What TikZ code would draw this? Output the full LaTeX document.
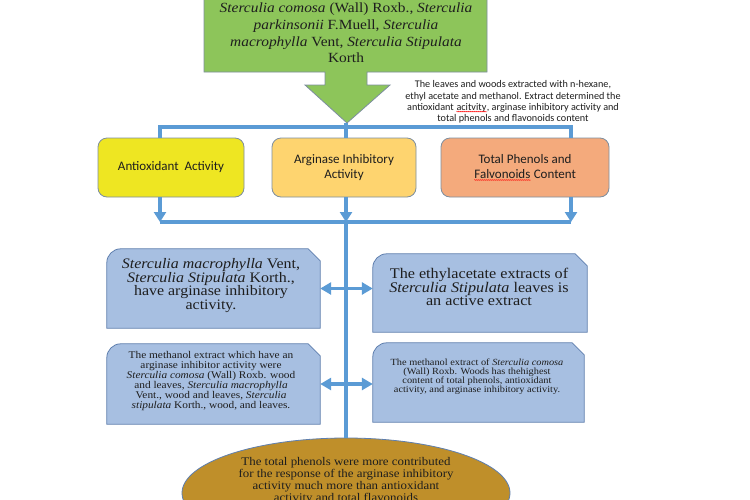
\documentclass[tikz,border=0pt]{standalone}
\usepackage{fontspec}
\setmainfont[FakeStretch=1.1]{Liberation Serif}
\newfontfamily\calfont{Carlito}
\usetikzlibrary{arrows.meta,shapes.geometric,backgrounds,calc,decorations.pathmorphing}
\definecolor{gfill}{HTML}{8DC55A}
\definecolor{gline}{HTML}{7D8E9F}
\definecolor{blueline}{HTML}{5B9BD5}
\definecolor{yfill}{HTML}{EEE622}
\definecolor{ofill}{HTML}{FED46F}
\definecolor{sfill}{HTML}{F4AA7C}
\definecolor{lfill}{HTML}{A7BFE1}
\definecolor{lline}{HTML}{5F7FAE}
\definecolor{efill}{HTML}{BF8F2A}
\definecolor{txt}{HTML}{1E1E1E}
\newcommand\wavyword[1]{\tikz[baseline=(ww.base)]{\node[draw=none, fill=none, minimum width=0pt, minimum height=0pt,
    sharp corners, inner sep=0pt, anchor=base, text=txt] (ww) {#1};
  \draw[red, line width=0.4pt, sharp corners, decorate, decoration={snake, amplitude=0.5pt, segment length=2pt}]
  ([yshift=-1.2pt]ww.base west) -- ([yshift=-1.2pt]ww.base east);}}
\begin{document}
\begin{tikzpicture}[x=1pt,y=-1pt,
  txtstyle/.style={text=txt, align=center, inner sep=0pt},
  rowbox/.style={draw=gline, line width=0.8pt, rounded corners=9pt, minimum height=59pt,
    inner sep=0pt, align=center, text=txt, font=\calfont\fontsize{13}{15.5}\selectfont},
  blueconn/.style={draw=blueline, line width=3.5pt},
  btip/.style={-{Triangle[width=12pt,length=10pt]}},
  bboth/.style={{Triangle[width=12pt,length=11pt]}-{Triangle[width=12pt,length=11pt]}}
]
\useasboundingbox (0,0) rectangle (750,499);
\fill[white] (0,0) rectangle (750,499);

% green source box with arrow
\draw[gline, fill=gfill, line width=0.8pt] (204,-10) -- (204,72) -- (325,72) -- (325,85) -- (305,85)
  -- (347,123) -- (390,85) -- (367,85) -- (367,72) -- (487,72) -- (487,-10);
\node[txtstyle, font=\fontsize{14}{16.7}\selectfont] (src) at (346,33)
  {\textit{Sterculia comosa} (Wall) Roxb., \textit{Sterculia}\\
   \textit{parkinsonii} F.Muell, \textit{Sterculia}\\
   \textit{macrophylla} Vent, \textit{Sterculia Stipulata}\\
   Korth};
\coordinate (tip) at (346,123);

\node[txtstyle, font=\calfont\fontsize{10.2}{11.3}\selectfont] (note) at (513,102)
  {The leaves and woods extracted with n-hexane,\\
   ethyl acetate and methanol. Extract determined the\\
   antioxidant \wavyword{acitvity}, arginase inhibitory activity and\\
   total phenols and flavonoids content};

% row of three boxes
\node[rowbox, fill=yfill, minimum width=146pt] (A) at (171,167.5) {Antioxidant\ \ Activity};
\node[rowbox, fill=ofill, minimum width=144pt] (B) at (344,167.5) {Arginase Inhibitory\\Activity};
\node[rowbox, fill=sfill, minimum width=168pt] (C) at (525,167.5) {Total Phenols and\\\wavyword{Falvonoids} Content};

% lower boxes (shapes)
\node[minimum width=213pt, minimum height=79pt, inner sep=0pt] (b1) at (213.5,288.5) {};
\node[minimum width=214pt, minimum height=78pt, inner sep=0pt] (b2) at (480,293) {};
\node[minimum width=213pt, minimum height=80pt, inner sep=0pt] (b3) at (213.5,384) {};
\node[minimum width=211pt, minimum height=79pt, inner sep=0pt] (b4) at (478.5,382.5) {};
\foreach \n in {b1,b2,b3,b4}{
  \draw[lline, fill=lfill, line width=0.8pt] (\n.south west) [rounded corners=14pt] -- (\n.north west)
    [sharp corners] -- ([xshift=-12pt]\n.north east) -- ([yshift=-12pt]\n.north east) -- (\n.south east) -- cycle;
}
\node[txtstyle, font=\fontsize{14.5}{13.7}\selectfont] (t1) at (211,285.5)
  {\textit{Sterculia macrophylla} Vent,\\ \textit{Sterculia Stipulata} Korth.,\\ have arginase inhibitory\\ activity.};
\node[txtstyle, font=\fontsize{14.7}{13.7}\selectfont] (t2) at (479,287)
  {The ethylacetate extracts of\\ \textit{Sterculia Stipulata} leaves is\\ an active extract};
\node[txtstyle, font=\fontsize{10.3}{10}\selectfont] (t3) at (211,381)
  {The methanol extract which have an\\ arginase inhibitor activity were\\
   \textit{Sterculia comosa} (Wall) Roxb. wood\\ and leaves, \textit{Sterculia macrophylla}\\
   Vent., wood and leaves, \textit{Sterculia}\\ \textit{stipulata} Korth., wood, and leaves.};
\node[txtstyle, font=\fontsize{9.4}{8.9}\selectfont] (t4) at (477,377)
  {The methanol extract of \textit{Sterculia comosa}\\ (Wall) Roxb. Woods has thehighest\\
   content of total phenols, antioxidant\\ activity, and arginase inhibitory activity.};

% ellipse
\node[ellipse, draw=lline, line width=0.8pt, fill=efill, minimum width=328pt, minimum height=110pt, inner sep=0pt] (ell) at (346,493) {};
\node[txtstyle, font=\fontsize{11.7}{12}\selectfont] (et) at (346,481)
  {The total phenols were more contributed\\ for the response of the arginase inhibitory\\
   activity much more than antioxidant\\ activity and total flavonoids};

% blue connectors
\coordinate (hL) at (160,127);
\coordinate (hM) at (346,127);
\coordinate (hR) at (571,127);
\coordinate (gL) at (160,222);
\coordinate (gM) at (346,222);
\coordinate (gR) at (571,222);
\draw[blueconn] (tip) -- (hM);
\draw[blueconn] (hL |- A.north) -- (hL) -- (hR) -- (hR |- C.north);
\draw[blueconn] (hM) -- (hM |- B.north);
\draw[blueconn] (gL) -- (gR);
\draw[blueconn, btip] (gL |- A.south) -- (gL);
\draw[blueconn, btip] (gM |- B.south) -- (gM);
\draw[blueconn, btip] (gR |- C.south) -- (gR);
\draw[blueconn] (gM) -- (ell.north);
\draw[blueconn, bboth] (b1.east) -- (b1.east -| b2.west);
\draw[blueconn, bboth] (b3.east) -- (b3.east -| b4.west);
\end{tikzpicture}
\end{document}
